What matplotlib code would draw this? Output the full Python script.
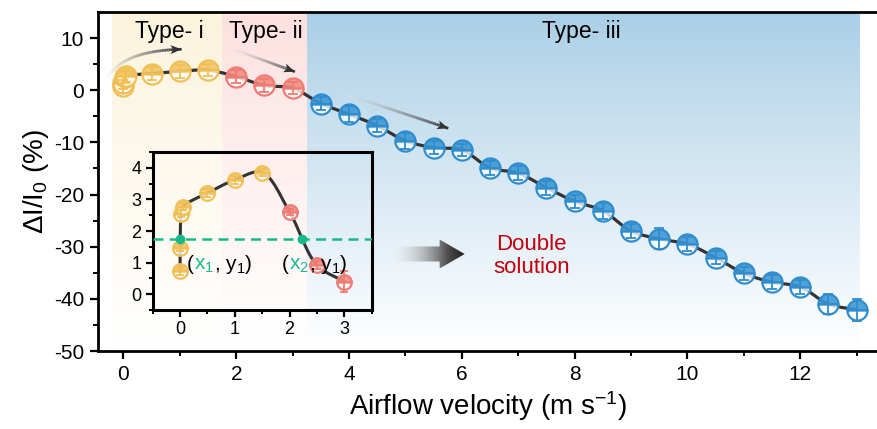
import numpy as np
import matplotlib
matplotlib.use('Agg')
import matplotlib.pyplot as plt
from matplotlib.patches import Polygon
from matplotlib.collections import LineCollection
from matplotlib import transforms
from matplotlib.colors import to_rgb

plt.rcParams['font.family'] = ['Liberation Sans', 'DejaVu Sans']
plt.rcParams['mathtext.fontset'] = 'custom'
plt.rcParams['mathtext.rm'] = 'Liberation Sans'
plt.rcParams['mathtext.it'] = 'Liberation Sans:italic'
plt.rcParams['mathtext.bf'] = 'Liberation Sans:bold'
plt.rcParams['mathtext.default'] = 'regular'
plt.rcParams['axes.unicode_minus'] = False

# ---------------- data ----------------
x_i = [0.0, 0.0, 0.02, 0.05, 0.5, 1.0, 1.5]
y_i = [0.72, 1.47, 2.55, 2.77, 3.2, 3.62, 3.85]
x_ii = [2.0, 2.5, 3.0]
y_ii = [2.6, 0.92, 0.4]
x_iii = [3.5, 4.0, 4.5, 5.0, 5.5, 6.0, 6.5, 7.0, 7.5, 8.0, 8.5, 9.0, 9.5, 10.0,
         10.5, 11.0, 11.5, 12.0, 12.5, 13.0]
y_iii = [-2.55, -4.6, -6.8, -9.7, -11.0, -11.45, -14.9, -15.9, -18.7, -21.3,
         -23.1, -27.0, -28.5, -29.5, -32.1, -35.1, -36.8, -37.7, -41.0, -42.1]
err_i = [1.2, 1.2, 1.2, 1.2, 1.2, 1.2, 1.2]
err_ii = [1.2, 1.2, 1.2]
err_iii = [1.2, 1.5, 1.3, 1.5, 1.3, 1.2, 1.3, 1.3, 1.3, 1.2, 1.5, 1.3, 2.0, 1.3,
           1.3, 1.3, 1.3, 1.3, 2.0, 2.1]
err_i_in = [0.1, 0.1, 0.12, 0.12, 0.12, 0.12, 0.12]
err_ii_in = [0.1, 0.12, 0.32]
y_level = 1.75

regions = [(-0.2, 1.75, '#fcf3dc'), (1.75, 3.25, '#fde0df'), (3.25, 13.05, '#a9cee6')]

c_i = ('#f3c565', '#f0bf55')
c_ii = ('#f28a80', '#ef7b72')
c_iii = ('#3a96d3', '#2f8dcf')

W, H = 878, 429
fig = plt.figure(figsize=(W / 100, H / 100), dpi=100)
ax = fig.add_axes([98 / W, 1 - 351 / H, 1 - 98 / W, (351 - 12) / H])
ax.set_xlim(-0.452, 13.38)
ax.set_ylim(-50, 15)


def cr(P, n=40, alpha=0.5):
    P = np.asarray(P, float)
    P = np.vstack([2 * P[0] - P[1], P, 2 * P[-1] - P[-2]])
    pts = []
    for i in range(len(P) - 3):
        p0, p1, p2, p3 = P[i:i + 4]
        t0 = 0.0
        t1 = t0 + max(np.linalg.norm(p1 - p0), 1e-6) ** alpha
        t2 = t1 + max(np.linalg.norm(p2 - p1), 1e-6) ** alpha
        t3 = t2 + max(np.linalg.norm(p3 - p2), 1e-6) ** alpha
        t = np.linspace(t1, t2, n)[:, None]
        A1 = (t1 - t) / (t1 - t0) * p0 + (t - t0) / (t1 - t0) * p1
        A2 = (t2 - t) / (t2 - t1) * p1 + (t - t1) / (t2 - t1) * p2
        A3 = (t3 - t) / (t3 - t2) * p2 + (t - t2) / (t3 - t2) * p3
        B1 = (t2 - t) / (t2 - t0) * A1 + (t - t0) / (t2 - t0) * A2
        B2 = (t3 - t) / (t3 - t1) * A2 + (t - t1) / (t3 - t1) * A3
        C = (t2 - t) / (t2 - t1) * B1 + (t - t1) / (t2 - t1) * B2
        pts.append(C if i == len(P) - 4 else C[:-1])
    return np.vstack(pts)


def smooth_curve(axis, xs, ys):
    T = axis.transData
    P = T.transform(np.column_stack([xs, ys]))
    C = cr(P)
    return T.inverted().transform(C)


# background gradients
for x0, x1, col in regions:
    r, g, b = to_rgb(col)
    n = 256
    f = np.linspace(0, 1, n)
    img = np.zeros((n, 1, 3))
    img[:, 0, 0] = r + (1 - r) * f ** 0.9
    img[:, 0, 1] = g + (1 - g) * f ** 0.9
    img[:, 0, 2] = b + (1 - b) * f ** 0.9
    ax.imshow(img, extent=[x0, x1, -50, 15], aspect='auto', zorder=0,
              interpolation='bilinear', origin='upper')
ax.set_xlim(-0.452, 13.38)
ax.set_ylim(-50, 15)

# fit line
x_all = x_i + x_ii + x_iii
y_all = y_i + y_ii + y_iii
C = smooth_curve(ax, x_all, y_all)
ax.plot(C[:, 0], C[:, 1], color='#333333', lw=2.3, zorder=3, solid_capstyle='round')


def draw_series(axis, xs, ys, es, cols, ms, z=4):
    face, edge = cols
    fr, fg, fb = to_rgb(face)
    axis.plot(xs, ys, 'o', ms=ms, mfc=(fr, fg, fb, 0.88), mfcalt=(1, 1, 1, 0.78),
              fillstyle='top', mec=edge, mew=1.6, zorder=z, linestyle='none')
    axis.errorbar(xs, ys, yerr=es, fmt='none', ecolor=edge, elinewidth=1.3,
                  capsize=ms * 0.27, capthick=1.3, zorder=z + 0.1)


draw_series(ax, x_i, y_i, err_i, c_i, 14.5)
draw_series(ax, x_ii, y_ii, err_ii, c_ii, 14.5)
draw_series(ax, x_iii, y_iii, err_iii, c_iii, 14.5)

# ticks & spines
ax.spines['right'].set_visible(False)
for s in ['top', 'left', 'bottom']:
    ax.spines[s].set_linewidth(2.0)
ax.set_xticks(np.arange(0, 14, 2))
ax.set_xticks(np.arange(0, 14, 1), minor=True)
ax.set_yticks(np.arange(-50, 11, 10))
ax.set_yticks(np.arange(-50, 15, 5), minor=True)
ax.tick_params(which='major', length=6, width=1.6, labelsize=15, direction='out', pad=4)
ax.tick_params(which='minor', length=3.5, width=1.4, direction='out')
ax.tick_params(top=False, right=False)
ax.set_xlabel('Airflow velocity (m s$^{-1}$)', fontsize=20, labelpad=4)
ax.set_ylabel('ΔI/I$_0$ (%)', fontsize=20, labelpad=2)

# type labels
ax.text(0.82, 11.2, 'Type- i', fontsize=16.5, ha='center', va='center', zorder=6)
ax.text(2.52, 11.2, 'Type- ii', fontsize=16.5, ha='center', va='center', zorder=6)
ax.text(8.11, 11.2, 'Type- iii', fontsize=16.5, ha='center', va='center', zorder=6)

# gradient arrows
T = ax.transData
Ti = T.inverted()


def grad_line(pts_data, lw=2.0, head_len=11, head_w=9):
    P = T.transform(pts_data)
    segs = np.stack([P[:-1], P[1:]], axis=1)
    n = len(segs)
    cols = []
    for k in range(n):
        f = k / max(n - 1, 1)
        g = 0.9 - 0.7 * f
        cols.append((g, g, g, 0.25 + 0.75 * f))
    d = P[-1] - P[-2]
    d = d / np.linalg.norm(d)
    nrm = np.array([-d[1], d[0]])
    tip = P[-1]
    base = tip - d * head_len
    segsD = [[Ti.transform(s[0]), Ti.transform(s[1])] for s in segs]
    lc = LineCollection(segsD, colors=cols, linewidths=lw, zorder=5, capstyle='butt')
    ax.add_collection(lc)
    head = np.array([tip, base + nrm * head_w / 2, base + d * 2.5, base - nrm * head_w / 2])
    ax.add_patch(Polygon(Ti.transform(head), closed=True, fc='#333333', ec='none', zorder=5))


# Type-i curved arrow (quadratic bezier)
tb = np.linspace(0, 1, 60)[:, None]
p0 = np.array([-0.27, 2.54]); pc = np.array([0.0, 7.6]); p2 = np.array([1.03, 7.85])
bez = (1 - tb) ** 2 * p0 + 2 * (1 - tb) * tb * pc + tb ** 2 * p2
grad_line(bez)
lin = np.linspace(0, 1, 60)[:, None]
grad_line(np.array([1.95, 7.85]) + lin * (np.array([3.04, 3.55]) - np.array([1.95, 7.85])))
grad_line(np.array([3.96, -0.82]) + lin * (np.array([5.76, -7.3]) - np.array([3.96, -0.82])))

# big gradient arrow
tail = T.transform((4.72, -31.4))
tipD = T.transform((6.05, -31.4))
hl, sw, hw = 25, 7.5, 14.5
cy = tail[1]
arrD = np.array([[tail[0], cy - sw], [tipD[0] - hl, cy - sw], [tipD[0] - hl, cy - hw],
                 [tipD[0], cy], [tipD[0] - hl, cy + hw], [tipD[0] - hl, cy + sw],
                 [tail[0], cy + sw]])
arr = Ti.transform(arrD)
patch = Polygon(arr, closed=True, fc='none', ec='none', transform=T)
ax.add_patch(patch)
gx = np.linspace(0, 1, 256)
img = np.zeros((1, 256, 4))
img[0, :, 0] = img[0, :, 1] = img[0, :, 2] = 0.92 - 0.8 * gx
img[0, :, 3] = np.clip(gx * 1.3, 0, 1)
xmin, ymin = arr.min(axis=0)
xmax, ymax = arr.max(axis=0)
im = ax.imshow(img, extent=[xmin, xmax, ymin, ymax], aspect='auto', zorder=5,
               interpolation='bilinear')
im.set_clip_path(patch)
ax.set_xlim(-0.452, 13.38)
ax.set_ylim(-50, 15)

ax.text(7.24, -31.8, 'Double\nsolution', color='#c0000c', fontsize=16,
        ha='center', va='center', linespacing=1.15, zorder=6)

# ---------------- inset ----------------
ins = fig.add_axes([152.7 / W, 1 - 310 / H, (371.7 - 152.7) / W, (310 - 152) / H])
ins.patch.set_alpha(0)
ins.set_xlim(-0.5, 3.5)
ins.set_ylim(-0.5, 4.5)
Ci = smooth_curve(ins, x_i + x_ii, y_i + y_ii)
ins.plot(Ci[:, 0], Ci[:, 1], color='#333333', lw=2.2, zorder=3)
draw_series(ins, x_i, y_i, err_i_in, c_i, 10.5)
draw_series(ins, x_ii, y_ii, err_ii_in, c_ii, 10.5)
green = '#17b98a'
ins.axhline(y_level, color=green, lw=1.8, ls=(0, (4, 2.5)), zorder=6)
first = Ci[:len(Ci) // 3]
second = Ci[len(Ci) // 2:]
x1 = np.interp(y_level, first[:, 1], first[:, 0])
k = np.where(np.diff(np.sign(second[:, 1] - y_level)) != 0)[0][0]
a, b = second[k], second[k + 1]
x2 = a[0] + (y_level - a[1]) * (b[0] - a[0]) / (b[1] - a[1])
ins.plot([x1, x2], [y_level, y_level], 'o', color=green, ms=6, zorder=7)

for s in ins.spines.values():
    s.set_linewidth(2.2)
ins.set_xticks([0, 1, 2, 3])
ins.set_xticks(np.arange(-0.5, 3.6, 0.5), minor=True)
ins.set_yticks([0, 1, 2, 3, 4])
ins.set_yticks(np.arange(-0.5, 4.6, 0.5), minor=True)
ins.tick_params(which='major', length=5, width=1.6, labelsize=13, pad=3)
ins.tick_params(which='minor', length=3, width=1.4)

fig.canvas.draw()
renderer = fig.canvas.get_renderer()


def rainbow(axis, x, y, pieces, **kw):
    t = axis.transData
    for s, c in pieces:
        txt = axis.text(x, y, s, color=c, transform=t, va='baseline', ha='left', zorder=8, **kw)
        ex = txt.get_window_extent(renderer)
        t = transforms.offset_copy(txt.get_transform(), fig=fig, x=ex.width + 0.3, units='dots')


rainbow(ins, 0.12, 0.78, [('(', 'black'), ('x$_1$', green), (', y$_1$)', 'black')],
        fontsize=15)
rainbow(ins, 1.85, 0.78, [('(', 'black'), ('x$_2$', green), (', y$_1$)', 'black')],
        fontsize=15)

fig.savefig('out.png', dpi=100)
